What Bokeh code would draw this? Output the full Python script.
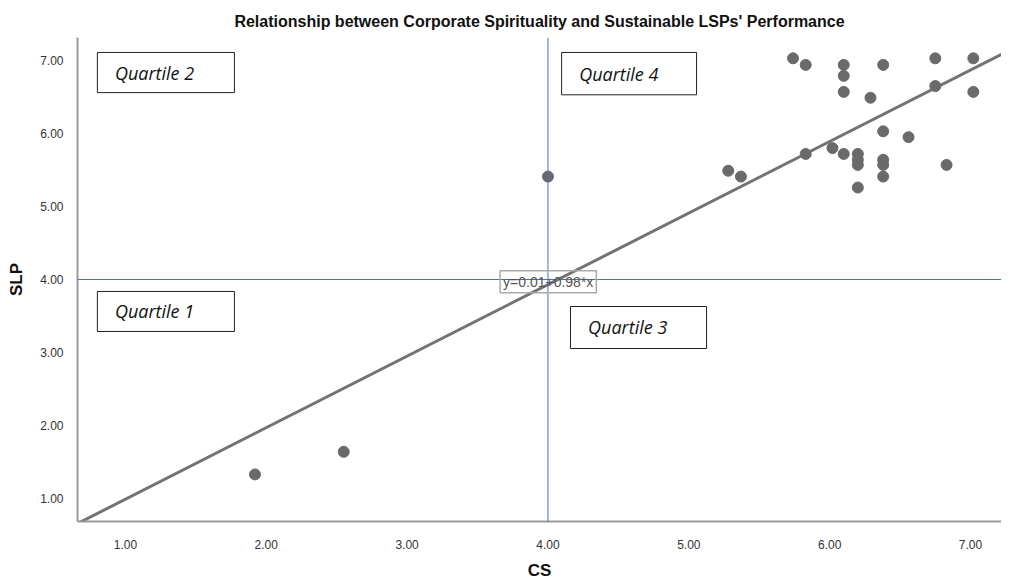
from bokeh.plotting import figure
from bokeh.models import Range1d, BoxAnnotation, Label, Span, FixedTicker, NumeralTickFormatter
from bokeh.embed import file_html
from bokeh.resources import INLINE

title_text = "Relationship between Corporate Spirituality and Sustainable LSPs' Performance"
x_label = "CS"
y_label = "SLP"

cs = [1.92, 2.55, 4.00, 5.28, 5.37, 5.74, 5.83, 6.10, 6.10, 6.10, 6.29, 6.38,
      6.75, 7.02, 6.75, 7.02, 6.38, 6.56, 6.02, 5.83, 6.10, 6.20, 6.20, 6.20,
      6.38, 6.38, 6.38, 6.20, 6.83]
slp = [1.33, 1.64, 5.41, 5.49, 5.41, 7.03, 6.94, 6.94, 6.79, 6.57, 6.49, 6.94,
       7.03, 7.03, 6.65, 6.57, 6.03, 5.95, 5.80, 5.72, 5.72, 5.72, 5.64, 5.57,
       5.64, 5.57, 5.41, 5.26, 5.57]

ticks = [1, 2, 3, 4, 5, 6, 7]
intercept = 0.01
slope = 0.98
equation = "y=0.01+0.98*x"
ref_x = 4.0
ref_y = 4.0
quartiles = ["Quartile 2", "Quartile 4", "Quartile 1", "Quartile 3"]

x0, x1 = 0.66, 7.22
y0, y1 = 0.685, 7.315

p = figure(frame_width=924, frame_height=484, output_backend="svg", toolbar_location=None,
           x_range=Range1d(x0, x1), y_range=Range1d(y0, y1),
           min_border_left=77, min_border_right=0, min_border_top=37, min_border_bottom=52)
p.title.text = title_text
p.title.align = "center"
p.title.vertical_align = "middle"
p.title.text_font = "Liberation Sans"
p.title.text_font_size = "16px"
p.title.text_font_style = "bold"
p.title.text_color = "#111111"
p.title.standoff = 14
p.outline_line_color = None
p.xgrid.visible = False
p.ygrid.visible = False
p.background_fill_color = "white"

for ax in (p.xaxis, p.yaxis):
    ax.ticker = FixedTicker(ticks=ticks)
    ax.formatter = NumeralTickFormatter(format="0.00")
    ax.major_tick_line_color = None
    ax.minor_tick_line_color = None
    ax.major_label_text_font = "Liberation Sans"
    ax.major_label_text_font_size = "12px"
    ax.major_label_text_color = "#333333"
    ax.axis_label_text_font = "Liberation Sans"
    ax.axis_label_text_font_size = "17px"
    ax.axis_label_text_font_style = "bold"
    ax.axis_label_text_color = "#111111"
    ax.axis_line_color = "#9a9a9a"
    ax.axis_line_width = 2
p.xaxis.axis_label = x_label
p.yaxis.axis_label = y_label
p.xaxis.major_label_standoff = 12
p.yaxis.major_label_standoff = 8
p.xaxis.axis_label_standoff = 9
p.yaxis.axis_label_standoff = 11

# quadrant reference lines
p.add_layout(Span(location=ref_x, dimension="height", line_color="#3f74c4", line_width=1))
p.add_layout(Span(location=ref_y, dimension="width", line_color="#3f74c4", line_width=1))

# quartile boxes
boxes = [(0.801, 1.774, 6.56, 7.11), (4.097, 5.055, 6.53, 7.11),
         (0.801, 1.774, 3.288, 3.836), (4.16, 5.126, 3.055, 3.63)]
for name, (l, r, b, t) in zip(quartiles, boxes):
    p.add_layout(BoxAnnotation(left=l, right=r, bottom=b, top=t, fill_color="white",
                               fill_alpha=1, line_color="#222222", line_alpha=1,
                               line_width=1, level="underlay"))
    p.add_layout(Label(x=l + 0.125, y=(b + t) / 2, text=name, text_baseline="middle",
                       text_font="Open Sans", text_font_style="italic", text_font_size="18px",
                       text_color="#111111"))

# regression line
p.line([x0, x1], [intercept + slope * x0, intercept + slope * x1], line_color="#737373", line_width=3)

# data points
p.scatter(cs, slp, size=11, fill_color="#6a6a6a", line_color="#6a6a6a")

p.add_layout(Label(x=3.66, y=3.97, text=equation, text_baseline="middle",
                   text_font="Liberation Sans", text_font_size="14px", text_color="#555555",
                   border_line_color="#aaaaaa", border_line_width=1.5, padding=3))

open("out.html", "w").write(file_html(p, INLINE))
